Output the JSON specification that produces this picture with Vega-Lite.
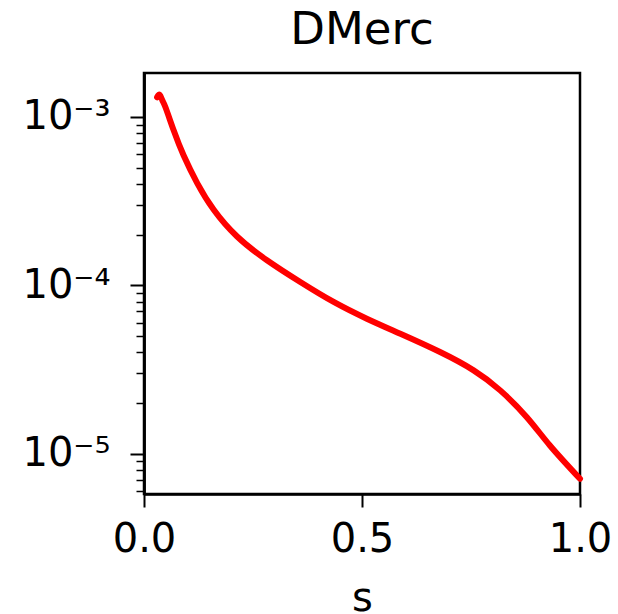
{
  "$schema": "https://vega.github.io/schema/vega-lite/v6.json",
  "autosize": "none",
  "padding": {"left": 144, "top": 73, "right": 38, "bottom": 120},
  "width": 436,
  "height": 421,
  "background": "white",
  "config": {
    "font": "DejaVu Sans",
    "view": {"stroke": "black", "strokeWidth": 2.5},
    "axis": {"grid": false, "domainColor": "black", "domainWidth": 2.5, "tickColor": "black", "labelColor": "black", "titleColor": "black", "labelFont": "DejaVu Sans", "titleFont": "DejaVu Sans"}
  },
  "title": {"text": "DMerc", "fontSize": 45, "fontWeight": "normal", "font": "DejaVu Sans", "color": "black", "offset": 20, "anchor": "middle"},
  "data": {"values": [
    {"s": 0.030, "v": 0.00131},
    {"s": 0.036, "v": 0.001355},
    {"s": 0.042, "v": 0.001257},
    {"s": 0.049, "v": 0.001146},
    {"s": 0.068, "v": 0.000834},
    {"s": 0.091, "v": 0.000590},
    {"s": 0.122, "v": 0.000405},
    {"s": 0.160, "v": 0.000281},
    {"s": 0.2135, "v": 0.000195},
    {"s": 0.282, "v": 0.000141},
    {"s": 0.3585, "v": 0.0001047},
    {"s": 0.435, "v": 0.0000797},
    {"s": 0.511, "v": 0.0000634},
    {"s": 0.588, "v": 0.0000516},
    {"s": 0.679, "v": 0.0000402},
    {"s": 0.756, "v": 0.0000313},
    {"s": 0.817, "v": 0.0000238},
    {"s": 0.878, "v": 0.0000165},
    {"s": 0.931, "v": 0.0000112},
    {"s": 1.0, "v": 0.0000071}
  ]},
  "encoding": {
    "x": {"field": "s", "type": "quantitative", "scale": {"domain": [0, 1], "nice": false, "zero": false},
      "axis": {"values": [0, 0.5, 1], "format": ".1f", "tickSize": 13, "tickWidth": 2, "labelFontSize": 40, "labelPadding": 12, "title": "s", "titleFontSize": 40, "titleFontWeight": "normal", "titlePadding": 19, "labelFlush": false}}
  },
  "layer": [
    {
      "mark": {"type": "line", "strokeOpacity": 0},
      "encoding": {
        "y": {"field": "v", "type": "quantitative", "scale": {"type": "log", "domain": [0.00000577, 0.001825], "nice": false},
          "axis": {"orient": "left", "values": [0.000006, 0.000007, 0.000008, 0.000009, 0.00002, 0.00003, 0.00004, 0.00005, 0.00006, 0.00007, 0.00008, 0.00009, 0.0002, 0.0003, 0.0004, 0.0005, 0.0006, 0.0007, 0.0008, 0.0009], "labels": false, "tickSize": 8, "tickWidth": 1.5, "title": null, "domain": true}}
      }
    },
    {
      "mark": {"type": "line", "color": "red", "strokeWidth": 6, "interpolate": "natural", "strokeCap": "round"},
      "encoding": {
        "y": {"field": "v", "type": "quantitative", "scale": {"type": "log", "domain": [0.00000577, 0.001825], "nice": false},
          "axis": {"orient": "left", "values": [0.00001, 0.0001, 0.001], "tickSize": 14, "tickWidth": 2, "labelFontSize": 40, "labelPadding": 20, "title": null,
            "labelExpr": "datum.value > 0.0005 ? '10⁻³' : datum.value > 0.00005 ? '10⁻⁴' : '10⁻⁵'"}}
      }
    }
  ],
  "resolve": {"axis": {"y": "independent"}}
}
